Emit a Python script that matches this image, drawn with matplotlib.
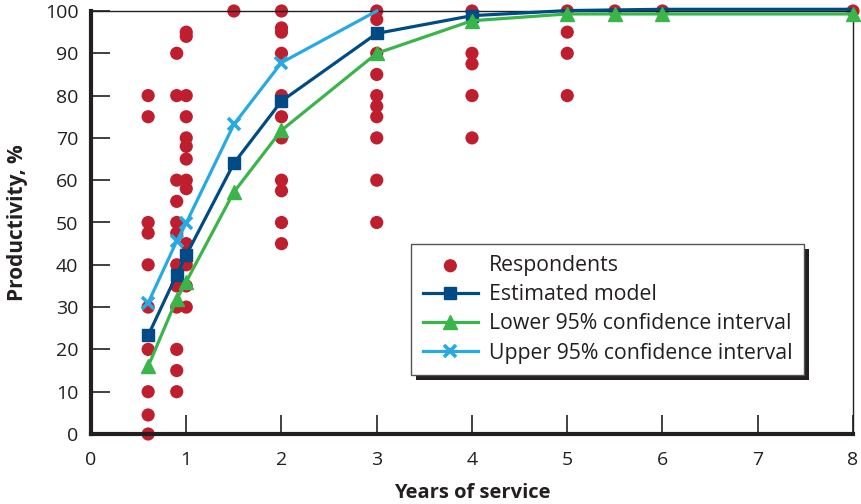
import matplotlib
matplotlib.use("Agg")
import matplotlib.pyplot as plt
from matplotlib.patches import Rectangle
from matplotlib.transforms import IdentityTransform

plt.rcParams['font.family'] = ['Open Sans', 'DejaVu Sans']

# Respondents (years of service, productivity %)
resp_x = ([0.6] * 10 + [0.9] * 12 + [1.0] * 13 + [1.5] + [2.0] * 11 +
          [3.0] * 10 + [4.0] * 5 + [5.0] * 4 + [5.5, 6.0, 8.0])
resp_y = ([80, 75, 50, 47.5, 40, 30, 20, 10, 4.5, 0] +
          [90, 80, 60, 55, 50, 47.5, 40, 35, 30, 20, 15, 10] +
          [95, 94, 80, 75, 70, 68, 65, 60, 58, 45, 40, 35, 30] +
          [100] +
          [100, 96, 95, 90, 80, 75, 70, 60, 57.5, 50, 45] +
          [100, 98, 90, 85, 80, 77.5, 75, 70, 60, 50] +
          [100, 90, 87.5, 80, 70] +
          [100, 95, 90, 80] +
          [100, 100, 100])

model_x = [0.6, 0.9, 1.0, 1.5, 2, 3, 4, 5, 6, 8]
model_y = [23.3, 37.7, 42.3, 64.0, 78.7, 94.7, 98.9, 100.1, 100.4, 100.4]

lower_x = [0.6, 0.9, 1.0, 1.5, 2, 3, 4, 5, 5.5, 6, 8]
lower_y = [16.0, 31.9, 36.0, 57.2, 71.8, 90.0, 97.7, 99.3, 99.3, 99.3, 99.3]

upper_x = [0.6, 0.9, 1.0, 1.5, 2, 3]
upper_y = [31.0, 45.6, 49.9, 73.2, 87.8, 100.0]

x_ticks = [0, 1, 2, 3, 4, 5, 6, 7, 8]
y_ticks = [0, 10, 20, 30, 40, 50, 60, 70, 80, 90, 100]

RED = '#BE1E2D'
NAVY = '#004B85'
GREEN = '#3AB54A'
SKY = '#27AAE1'
INK = '#231F20'

fig = plt.figure(figsize=(8.62, 5.04), dpi=100)
ax = fig.add_axes([91 / 862, 1 - 434 / 504, 762 / 862, 423 / 504])

ax.scatter(resp_x, resp_y, s=90, color=RED, edgecolors='none', zorder=2,
           clip_on=False, label='Respondents')
ax.plot(upper_x, upper_y, color=SKY, lw=2.3, marker='x', ms=9, mew=2.6,
        markevery=list(range(len(upper_x) - 1)), zorder=3, clip_on=False,
        label='Upper 95% confidence interval')
ax.plot(model_x, model_y, color=NAVY, lw=2.3, marker='s', ms=9,
        markevery=list(range(7)), zorder=4, clip_on=False,
        label='Estimated model')
ax.plot(lower_x, lower_y, color=GREEN, lw=2.3, marker='^', ms=10,
        zorder=5, clip_on=False, label='Lower 95% confidence interval')

ax.set_xlim(0, 8)
ax.set_ylim(0, 100)
ax.set_xticks(x_ticks)
ax.set_yticks(y_ticks)
ax.tick_params(axis='both', direction='in', length=14, width=1.2,
               color=INK, labelsize=14, labelcolor=INK)
ax.tick_params(axis='y', pad=9)
ax.tick_params(axis='x', pad=12)

for side in ['left', 'bottom']:
    ax.spines[side].set_linewidth(3)
    ax.spines[side].set_color(INK)
for side in ['top', 'right']:
    ax.spines[side].set_linewidth(1.0)
    ax.spines[side].set_color(INK)

ax.set_xlabel('Years of service', fontsize=14.5, fontweight='bold',
              color=INK, labelpad=10)
ax.set_ylabel('Productivity, %', fontsize=15, fontweight='bold',
              color=INK, labelpad=12)

h, l = ax.get_legend_handles_labels()
order = [l.index('Respondents'), l.index('Estimated model'),
         l.index('Lower 95% confidence interval'),
         l.index('Upper 95% confidence interval')]
leg = ax.legend([h[i] for i in order], [l[i] for i in order],
                loc='upper left', bbox_to_anchor=(0.42, 0.45),
                fontsize=15.3, frameon=True, fancybox=False,
                edgecolor='#555555', framealpha=1, handlelength=2.6,
                handletextpad=0.5, labelspacing=0.38, borderpad=0.55,
                borderaxespad=0, scatterpoints=1)
leg.get_frame().set_linewidth(1.0)
leg.set_zorder(10)
for t in leg.get_texts():
    t.set_color(INK)

fig.canvas.draw()
bb = leg.get_window_extent()
shadow = Rectangle((bb.x0 + 5, bb.y0 - 5), bb.width, bb.height,
                   transform=IdentityTransform(), facecolor=INK,
                   edgecolor='none', zorder=9, clip_on=False)
ax.add_artist(shadow)

fig.savefig('out.png', dpi=100)
